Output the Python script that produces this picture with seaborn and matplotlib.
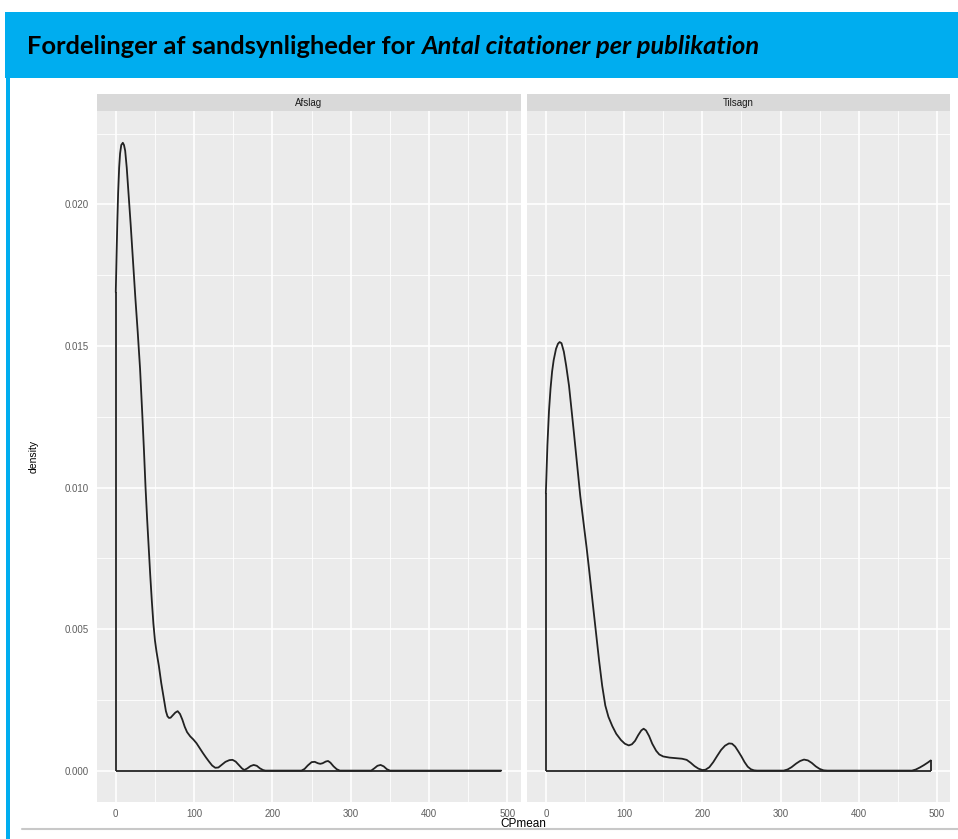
import matplotlib
matplotlib.use("Agg")
import matplotlib.pyplot as plt
from matplotlib.patches import Rectangle
from matplotlib.lines import Line2D
import numpy as np
import pandas as pd
import seaborn as sns

# ---------------- data ----------------
facets = ["Afslag", "Tilsagn"]

afslag_x = [0, 1, 2, 3, 4.3, 5.5, 7, 9, 10.5, 12, 14, 16, 19, 22, 25, 28, 31, 34, 36,
            38, 40, 42, 44, 46, 48, 50, 52, 55, 58, 61, 64, 66, 68, 70, 73, 76, 79,
            82, 85, 88, 91, 95, 99, 103, 107, 111, 115, 119, 123, 127, 131, 135, 140,
            145, 149, 153, 157, 161, 164, 168, 172, 176, 180, 184, 188, 191, 237,
            241, 245, 250, 254, 258, 261, 264, 268, 271, 274, 278, 282, 286, 326,
            330, 334, 338, 342, 346, 350, 492]
afslag_y = [0.0169, 0.0182, 0.0194, 0.0204, 0.0213, 0.0218, 0.0221, 0.02218, 0.0221,
            0.0219, 0.0213, 0.0205, 0.0193, 0.0180, 0.0167, 0.0155, 0.0142, 0.0125,
            0.0113, 0.0100, 0.0089, 0.0079, 0.0069, 0.0060, 0.0052, 0.0046, 0.0042,
            0.0037, 0.0031, 0.0026, 0.0021, 0.00192, 0.00186, 0.00187, 0.00196,
            0.00205, 0.0021, 0.0020, 0.0018, 0.00155, 0.00136, 0.00121, 0.0011,
            0.00097, 0.00080, 0.00063, 0.00047, 0.00032, 0.00018, 0.0001, 0.00011,
            0.0002, 0.00031, 0.00037, 0.00038, 0.00032, 0.0002, 0.00008, 0.00002,
            0.00008, 0.00016, 0.0002, 0.00017, 0.00008, 0.00002, 0.0, 0.0, 0.00006,
            0.00018, 0.0003, 0.00031, 0.00026, 0.00024, 0.00026, 0.00032, 0.00034,
            0.00028, 0.00015, 0.00005, 0.0, 0.0, 0.00008, 0.00017, 0.0002, 0.00015,
            0.00005, 0.0, 0.0]

tilsagn_x = [0, 2, 4, 6, 8, 10, 13, 15.5, 17.6, 20, 23, 26, 29.6, 33, 36, 40, 44, 48,
             52, 55.3, 60, 64, 68, 72, 76, 80, 85, 90, 96, 101, 106, 110, 114, 118,
             122, 125, 128, 132, 136, 141, 145, 150, 158, 166, 174, 180, 185, 190,
             195, 200, 204, 209, 214, 219, 224, 229, 234, 238, 242, 246, 250, 254,
             258, 262, 266, 270, 304, 309, 314, 320, 325, 330, 335, 340, 345, 350,
             355, 360, 468, 473, 478, 483, 488, 492]
tilsagn_y = [0.0098, 0.0115, 0.0127, 0.0135, 0.0141, 0.0145, 0.0149, 0.01508, 0.01514,
             0.0151, 0.0148, 0.0143, 0.0136, 0.0127, 0.0119, 0.0108, 0.0097, 0.0088,
             0.0079, 0.0071, 0.0059, 0.0049, 0.0039, 0.0030, 0.0023, 0.0019, 0.00157,
             0.0013, 0.00108, 0.00095, 0.00089, 0.00093, 0.00105, 0.00125, 0.00142,
             0.00148, 0.00142, 0.00122, 0.00095, 0.0007, 0.00057, 0.0005, 0.00046,
             0.00044, 0.00042, 0.00038, 0.00028, 0.00016, 0.00007, 0.00002, 0.00003,
             0.00012, 0.0003, 0.00052, 0.00073, 0.00088, 0.00096, 0.00095, 0.00085,
             0.00068, 0.0005, 0.0003, 0.00014, 0.00005, 0.00001, 0.0, 0.0, 0.00004,
             0.00012, 0.00025, 0.00034, 0.00039, 0.00036, 0.00027, 0.00015, 0.00006,
             0.00001, 0.0, 0.0, 0.00004, 0.00011, 0.00019, 0.00028, 0.00036]

x_ticks = [0, 100, 200, 300, 400, 500]
y_ticks = [0.000, 0.005, 0.010, 0.015, 0.020]
y_tick_labels = ["0.000", "0.005", "0.010", "0.015", "0.020"]

title_plain = "Fordelinger af sandsynligheder for "
title_italic = "Antal citationer per publikation"
x_label = "CPmean"
y_label = "density"

# ---------------- figure ----------------
W, H = 958, 839
sns.set_style("white")
plt.rcParams["font.family"] = ["Liberation Sans", "DejaVu Sans"]

fig = plt.figure(figsize=(W / 100, H / 100), dpi=100)
fig.patch.set_facecolor("white")

def fx(px):
    return px / W

def fy(py):
    return 1 - py / H

BLUE = "#00ADEF"
# header band
fig.patches.append(Rectangle((fx(5), fy(78)), fx(958) - fx(5), fy(12) - fy(78),
                             transform=fig.transFigure, facecolor=BLUE,
                             edgecolor="none", zorder=0))
# left vertical border
fig.patches.append(Rectangle((fx(6), fy(839)), fx(4), fy(78) - fy(839),
                             transform=fig.transFigure, facecolor=BLUE,
                             edgecolor="none", zorder=0))
# bottom grey rule
fig.lines.append(Line2D([fx(22), fx(958)], [fy(829), fy(829)],
                        transform=fig.transFigure, color="#C8C8C8", lw=1.5))

# title (bold + bold italic), fitted to reference width
renderer = fig.canvas.get_renderer()
tfont = ["Lato", "DejaVu Sans"]
fs = 17
t1 = fig.text(fx(27), fy(54), title_plain, fontsize=fs, fontweight="bold",
              family=tfont, color="black", va="baseline", ha="left")
t2 = fig.text(0, fy(54), title_italic, fontsize=fs, fontweight="bold",
              style="italic", family=tfont, color="black", va="baseline", ha="left")
for _ in range(3):
    e1 = t1.get_window_extent(renderer)
    t2.set_x((e1.x1) / W)
    e2 = t2.get_window_extent(renderer)
    total = e2.x1 - e1.x0
    fs = fs * 730.0 / total
    t1.set_fontsize(fs)
    t2.set_fontsize(fs)
e1 = t1.get_window_extent(renderer)
t2.set_x(e1.x1 / W)

# panels
PANEL_BG = "#EBEBEB"
STRIP_BG = "#D9D9D9"
TICK_C = "#7F7F7F"
LABEL_C = "#5E5E5E"
LINE_C = "#222222"
LW = 1.3

panel_px = [(96.5, 520.5), (526.6, 950.0)]
top_px, bot_px = 111.4, 802.0
strip_top = 94.0

xmin = min(afslag_x + tilsagn_x)
xmax = max(afslag_x + tilsagn_x)
xpad = 0.05 * (xmax - xmin)
ymax_data = max(afslag_y + tilsagn_y)
ypad = 0.05 * ymax_data

series = [(afslag_x, afslag_y), (tilsagn_x, tilsagn_y)]

for i, ((l, r), name, (xs, ys)) in enumerate(zip(panel_px, facets, series)):
    ax = fig.add_axes([fx(l), fy(bot_px), fx(r) - fx(l), fy(top_px) - fy(bot_px)])
    ax.set_facecolor(PANEL_BG)
    for s in ax.spines.values():
        s.set_visible(False)
    ax.set_xlim(xmin - xpad, xmax + xpad)
    ax.set_ylim(-ypad, ymax_data + ypad)

    ax.set_xticks(x_ticks)
    ax.set_xticks([50, 150, 250, 350, 450], minor=True)
    ax.set_yticks(y_ticks)
    ax.set_yticks([0.0025, 0.0075, 0.0125, 0.0175, 0.0225], minor=True)
    ax.grid(True, which="major", color="white", lw=1.2)
    ax.grid(True, which="minor", color="white", lw=0.6)
    ax.set_axisbelow(True)

    ax.set_xticklabels([str(t) for t in x_ticks], fontsize=7, color=LABEL_C)
    ax.tick_params(axis="x", which="major", length=4, width=0.8, color=TICK_C, pad=1)
    ax.tick_params(which="minor", length=0)
    if i == 0:
        ax.set_yticklabels(y_tick_labels, fontsize=7, color=LABEL_C)
        ax.tick_params(axis="y", which="major", length=4, width=0.8, color=TICK_C, pad=1.5)
    else:
        ax.set_yticklabels([])
        ax.tick_params(axis="y", which="major", length=0)

    df = pd.DataFrame({"x": xs, "y": ys})
    sns.lineplot(data=df, x="x", y="y", ax=ax, color=LINE_C, lw=LW,
                 sort=False, estimator=None)
    # close the density polygon like geom_density
    ax.vlines([xs[0]], 0, ys[0], color=LINE_C, lw=LW)
    ax.vlines([xs[-1]], 0, ys[-1], color=LINE_C, lw=LW)
    ax.hlines(0, xs[0], xs[-1], color=LINE_C, lw=LW)
    ax.set_xlabel("")
    ax.set_ylabel("")

    # strip
    sax = fig.add_axes([fx(l), fy(top_px), fx(r) - fx(l), fy(strip_top) - fy(top_px)])
    sax.set_facecolor(STRIP_BG)
    sax.set_xticks([])
    sax.set_yticks([])
    for s in sax.spines.values():
        s.set_visible(False)
    sax.text(0.5, 0.5, name, ha="center", va="center", fontsize=7,
             color="#1A1A1A", transform=sax.transAxes)

fig.text(fx((panel_px[0][0] + panel_px[1][1]) / 2), fy(824), x_label,
         ha="center", va="center", fontsize=8.5, color="black")
fig.text(fx(34), fy((top_px + bot_px) / 2), y_label, ha="center", va="center",
         rotation=90, fontsize=7.5, color="black")

fig.savefig("out.png", dpi=100, facecolor="white")
